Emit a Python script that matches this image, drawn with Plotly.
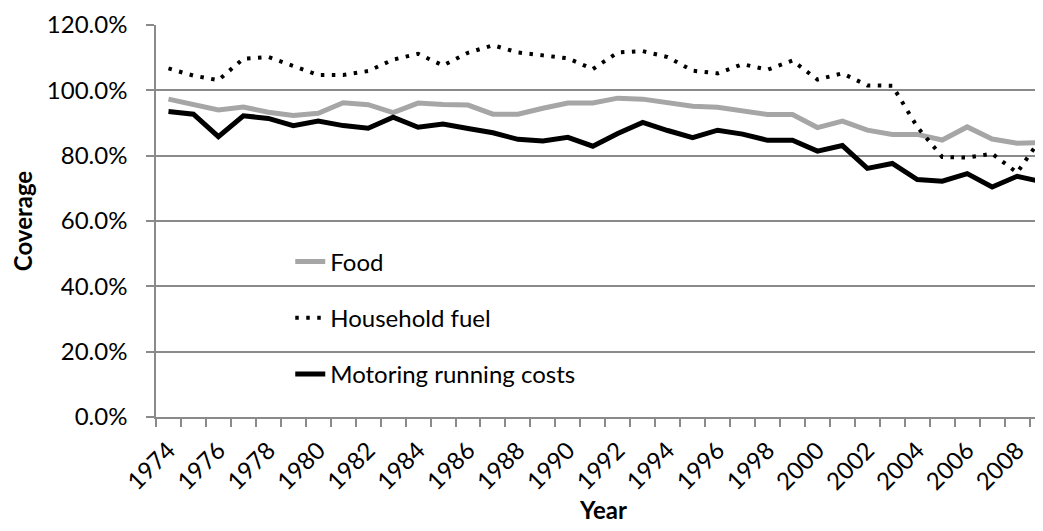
import plotly.graph_objects as go

years = list(range(1974, 2010))

food = [97.3, 95.6, 94.0, 94.9, 93.3, 92.3, 93.0, 96.2, 95.6, 93.2,
        96.1, 95.7, 95.5, 92.7, 92.7, 94.5, 96.1, 96.1, 97.6, 97.3,
        96.2, 95.1, 94.8, 93.8, 92.6, 92.6, 88.6, 90.6, 87.8, 86.5,
        86.5, 84.8, 88.8, 85.1, 83.8, 84.0]

household_fuel = [106.7, 104.5, 103.1, 109.7, 110.2, 107.4, 104.7, 104.7, 105.9, 109.4,
                  111.2, 107.6, 111.5, 113.8, 111.6, 110.7, 109.8, 106.5, 111.6, 112.0,
                  110.2, 106.0, 105.2, 108.0, 106.3, 109.1, 103.3, 105.2, 101.5, 101.4,
                  88.8, 79.6, 79.4, 80.6, 74.8, 85.8]

motoring = [93.5, 92.7, 85.8, 92.2, 91.4, 89.2, 90.6, 89.2, 88.4, 91.8,
            88.7, 89.7, 88.3, 87.0, 85.0, 84.5, 85.6, 82.9, 86.8, 90.2,
            87.7, 85.5, 87.8, 86.6, 84.7, 84.7, 81.4, 83.1, 76.1, 77.6,
            72.7, 72.2, 74.5, 70.4, 73.7, 72.0]

tick_years = list(range(1974, 2009, 2))
tick_labels = [str(y) for y in tick_years]

FONT = "Lato"
FS = 24
GRID = "#8a8a8a"

fig = go.Figure()
fig.add_trace(go.Scatter(x=years, y=[v / 100 for v in food], name="Food",
                         mode="lines", line=dict(color="#a6a6a6", width=5),
                         legendgroup="a"))
fig.add_trace(go.Scatter(x=years, y=[v / 100 for v in household_fuel], name="Household fuel",
                         mode="lines", line=dict(color="#000000", width=4, dash="3.5px,7.5px"),
                         legendgroup="b"))
fig.add_trace(go.Scatter(x=years, y=[v / 100 for v in motoring], name="Motoring running costs",
                         mode="lines", line=dict(color="#000000", width=5),
                         legendgroup="c"))

fig.update_layout(
    width=1043, height=531,
    margin=dict(l=148, r=0, t=17, b=122),
    paper_bgcolor="white", plot_bgcolor="white",
    font=dict(family=FONT, size=FS, color="#000000"),
    showlegend=True,
    legend=dict(x=0.150, y=0.453, xanchor="left", yanchor="top",
                bgcolor="rgba(0,0,0,0)", tracegroupgap=22,
                font=dict(family=FONT, size=FS, color="#000000")),
    xaxis=dict(
        range=[1973.5, 1973.5 + 895 / 24.96],
        tickmode="array", tickvals=tick_years, ticktext=tick_labels,
        tickangle=-45, ticks="", showgrid=False, ticklabelstandoff=8,
        showline=True, linecolor=GRID, linewidth=1.5,
        minor=dict(ticks="outside", tick0=1973.5, dtick=1, ticklen=8,
                   tickcolor=GRID, tickwidth=1.5, showgrid=False),
        title=dict(text="<b>Year</b>", font=dict(family=FONT, size=FS), standoff=8),
        tickfont=dict(family=FONT, size=FS),
        zeroline=False,
    ),
    yaxis=dict(
        range=[0, 1.2], dtick=0.2, tick0=0, tickformat=".1%",
        showgrid=True, gridcolor=GRID, gridwidth=1.5,
        showline=True, linecolor=GRID, linewidth=1.5,
        ticks="outside", ticklen=8, tickcolor=GRID, tickwidth=1.5,
        ticklabelstandoff=14,
        title=dict(text="<b>Coverage</b>", font=dict(family=FONT, size=FS), standoff=10),
        tickfont=dict(family=FONT, size=FS),
        zeroline=False,
    ),
)

fig.write_html("out.html")
